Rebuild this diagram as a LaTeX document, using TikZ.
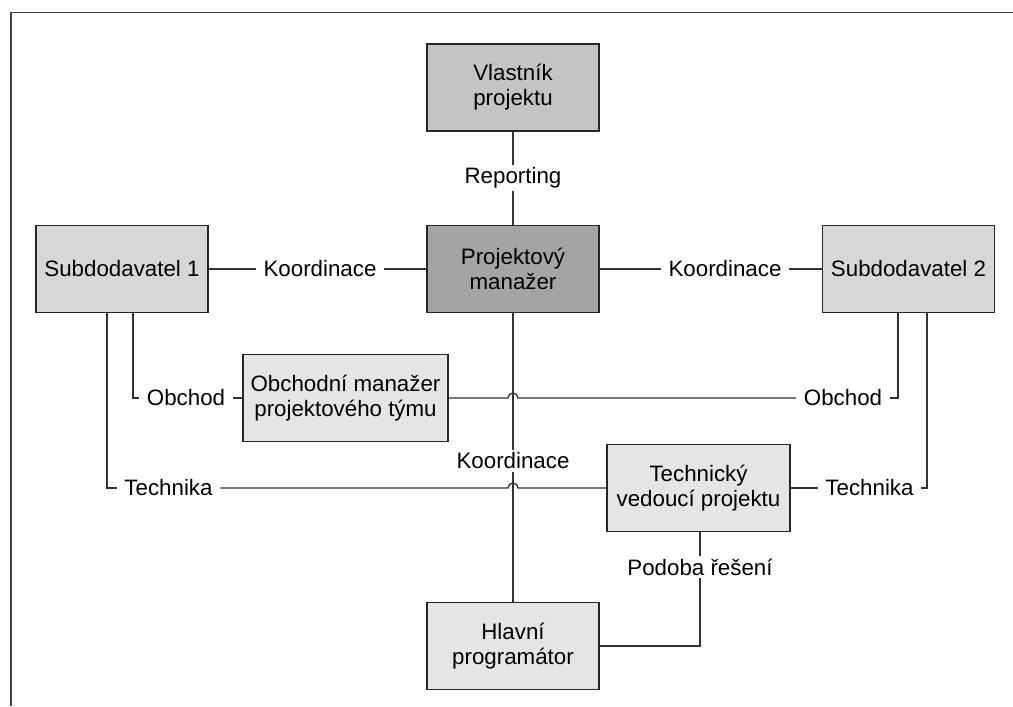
\documentclass[tikz,border=0pt]{standalone}
\usepackage{fontspec}
\setmainfont{Liberation Sans}
\usetikzlibrary{calc}
\definecolor{ownergray}{HTML}{C4C4C4}
\definecolor{pmgray}{HTML}{A4A4A4}
\definecolor{subgray}{HTML}{D6D7D8}
\definecolor{teamgray}{HTML}{E4E5E6}

\begin{document}
\begin{tikzpicture}[x=0.02cm, y=-0.02cm,
    every node/.style={font=\fontsize{12.7}{14.2}\selectfont, align=center},
    box/.style={draw=black!85, line width=0.85pt, minimum width=3.44cm, minimum height=1.74cm},
    lbl/.style={inner xsep=0.15cm, inner ysep=0.05cm},
    link/.style={draw=black!80, line width=0.75pt}]
        \useasboundingbox (0,0) rectangle (1013,706);
        \draw[line width=0.9pt, black!75] (11,706) -- (11,12.5) -- (1013,12.5);
        % boxes
        \node[box, fill=ownergray] (owner) at (513,87.5) {Vlastník\\projektu};
        \node[box, fill=pmgray] (pm) at (513,269) {Projektový\\manažer};
        \node[box, fill=subgray] (sub1) at (122,269) {Subdodavatel 1};
        \node[box, fill=subgray] (sub2) at (908.5,269) {Subdodavatel 2};
        \node[box, fill=teamgray, minimum width=4.1cm] (obm) at (345.5,398) {Obchodní manažer\\projektového týmu};
        \node[box, fill=teamgray, minimum width=3.66cm] (tech) at (698.5,488) {Technický\\vedoucí projektu};
        \node[box, fill=teamgray] (lead) at (513,646) {Hlavní\\programátor};
        % labels on the links
        \node[lbl] (report) at (513,178) {Reporting};
        \node[lbl] (koordL) at (320,269) {Koordinace};
        \node[lbl] (koordR) at (725,269) {Koordinace};
        \node[lbl] (koordM) at (513,461) {Koordinace};
        \node[lbl] (obchodL) at (186,398) {Obchod};
        \node[lbl] (obchodR) at (843,398) {Obchod};
        \node[lbl] (techL) at (168.5,488) {Technika};
        \node[lbl] (techR) at (869.5,488) {Technika};
        \node[lbl] (podoba) at (700,567) {Podoba řešení};
        % links
        \draw[link] (owner) -- (report) -- (pm);
        \draw[link] (sub1) -- (koordL) -- (pm);
        \draw[link] (pm) -- (koordR) -- (sub2);
        \draw[link] (pm) -- (koordM) -- (lead);
        \draw[link] ($(sub1.south)+(11,0)$) |- (obchodL);
        \draw[link] (obchodL) -- (obm);
        \draw[link] (obm.east) -- ($(pm.south |- obm.east)+(-5,0)$) arc[start angle=180, end angle=0, radius=0.1cm] -- (obchodR);
        \draw[link] (obchodR) -| ($(sub2.south)+(-10.5,0)$);
        \draw[link] ($(sub1.south)+(-15,0)$) |- (techL);
        \draw[link] (techL) -- ($(pm.south |- tech.west)+(-5,0)$) arc[start angle=180, end angle=0, radius=0.1cm] -- (tech.west);
        \draw[link] (tech) -- (techR) -| ($(sub2.south)+(18.5,0)$);
        \draw[link] (podoba |- tech.south) -- (podoba) |- (lead);
\end{tikzpicture}
\end{document}
